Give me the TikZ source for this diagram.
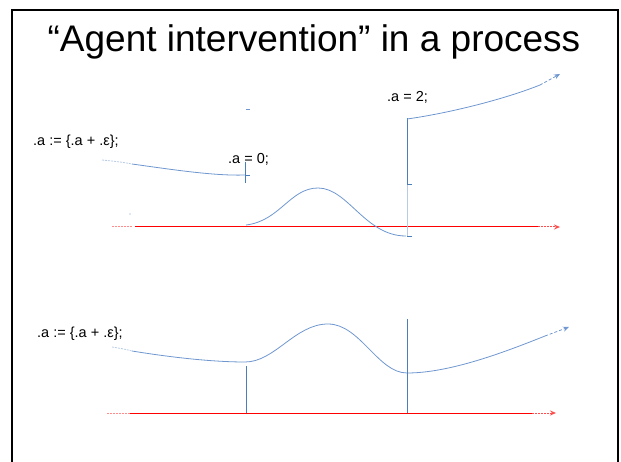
\documentclass[tikz,border=0pt]{standalone}
\usepackage{fontspec}
\setmainfont{Liberation Sans}
\usetikzlibrary{arrows.meta}
\definecolor{curveblue}{HTML}{6F97CF}
\definecolor{lineblue}{HTML}{4A7EBB}
\definecolor{axisred}{HTML}{FF0000}
\tikzset{
  x=1pt,y=-1pt,
  frameline/.style={line width=2pt,black},
  titletext/.style={font=\fontsize{37}{41}\selectfont,anchor=base,inner sep=0},
  codetext/.style={font=\fontsize{14.5}{17}\selectfont,anchor=base west,inner sep=0},
  curve/.style={curveblue,line width=0.8pt},
  faintcurve/.style={curveblue!50,line width=0.8pt,dashed,dash pattern=on 2pt off 1pt},
  vline/.style={lineblue,line width=0.9pt},
  fadedvline/.style={lineblue!40,line width=0.9pt},
  axis/.style={axisred,line width=1pt},
  faintaxis/.style={axisred!45,line width=1pt,dash pattern=on 2pt off 1pt},
  axisend/.style={axisred!70,line width=1pt,dash pattern=on 2pt off 1pt,-{Stealth[length=6pt,width=5pt]}},
  curveend/.style={curveblue,line width=0.8pt,dash pattern=on 3pt off 2pt,-{Stealth[length=6pt,width=5pt]}},
}
\begin{document}
\begin{tikzpicture}
\useasboundingbox (0,0) rectangle (621,462);
% frame
\draw[frameline] (12,462) -- (12,10) -- (618,10) -- (618,462);
% title
\node[titletext] (title) at (314,52) {“Agent intervention” in a process};

% ---------- top panel ----------
\node[codetext] (t1) at (33,146) {.a := \{.a + .ε\};};
\node[codetext] (t2) at (228,164) {.a = 0;};
\node[codetext] (t3) at (387,102) {.a = 2;};

\coordinate (a0) at (102,160);
\coordinate (a1) at (132,164);
\coordinate (a2) at (245,175);
\draw[faintcurve] (a0) .. controls (112,161) and (122,162) .. (a1);
\draw[curve] (a1) .. controls (175,170) and (215,176) .. (a2);
% intervention tick at x=245
\coordinate (v1t) at (245,162);
\coordinate (v1b) at (245,183);
\draw[vline] (v1t) -- (v1b);
\draw[vline] (a2) -- (250,175);
\draw[curveblue,line width=0.8pt] (246,109) -- (250,109);
\fill[curveblue] (130,214) circle (0.7pt);

% axis top
\coordinate (x0) at (112,227);
\coordinate (x1) at (132,227);
\coordinate (x2) at (538,227);
\coordinate (x3) at (560,227);
\draw[faintaxis] (x0) -- (x1);
\draw[axis] (135,227) -- (x2);
\draw[axisend] (x2) -- (x3);

% wave top
\coordinate (w0) at (246,225);
\coordinate (wp) at (318,188);
\coordinate (wm) at (406,236);
\draw[curve] (w0) .. controls (280,221) and (290,188) .. (wp)
  .. controls (348,188) and (365,236) .. (wm);
% vertical at 407
\coordinate (v2b) at (407,236);
\coordinate (v2m) at (407,184);
\coordinate (v2t) at (407,118);
\draw[fadedvline] (v2b) -- (v2m);
\draw[vline] (v2m) -- (v2t);
\draw[vline] (v2m) -- (412,184);
\draw[vline] (407,236) -- (412,236);
% jump curve
\coordinate (j0) at (407,119);
\coordinate (j1) at (540,85);
\coordinate (j2) at (560,74);
\draw[curve] (j0) .. controls (450,113) and (505,99) .. (j1);
\draw[curveend] (j1) -- (j2);

% ---------- bottom panel ----------
\node[codetext] (b1) at (37,337) {.a := \{.a + .ε\};};
\coordinate (c0) at (112,347);
\coordinate (c1) at (132,351);
\coordinate (c2) at (245,362);
\coordinate (cp) at (328,324);
\coordinate (cm) at (407,373);
\coordinate (c3) at (545,336);
\coordinate (c4) at (569,327);
\draw[faintcurve] (c0) .. controls (118,348) and (125,349) .. (c1);
\draw[curve] (c1) .. controls (175,358) and (215,362) .. (c2)
  .. controls (275,362) and (295,324) .. (cp)
  .. controls (360,324) and (378,373) .. (cm)
  .. controls (450,373) and (505,352) .. (c3);
\draw[curveend] (c3) -- (c4);

% axis bottom
\coordinate (y0) at (107,413);
\coordinate (y1) at (130,413);
\coordinate (y2) at (532,413);
\coordinate (y3) at (556,413);
\draw[faintaxis] (y0) -- (y1);
\draw[axis] (y1) -- (y2);
\draw[axisend] (y2) -- (y3);

% verticals bottom
\coordinate (u1t) at (246,366);
\coordinate (u1b) at (246,413);
\coordinate (u2t) at (407,319);
\coordinate (u2b) at (407,413);
\draw[vline] (u1t) -- (u1b);
\draw[vline] (u2t) -- (u2b);
\end{tikzpicture}
\end{document}
